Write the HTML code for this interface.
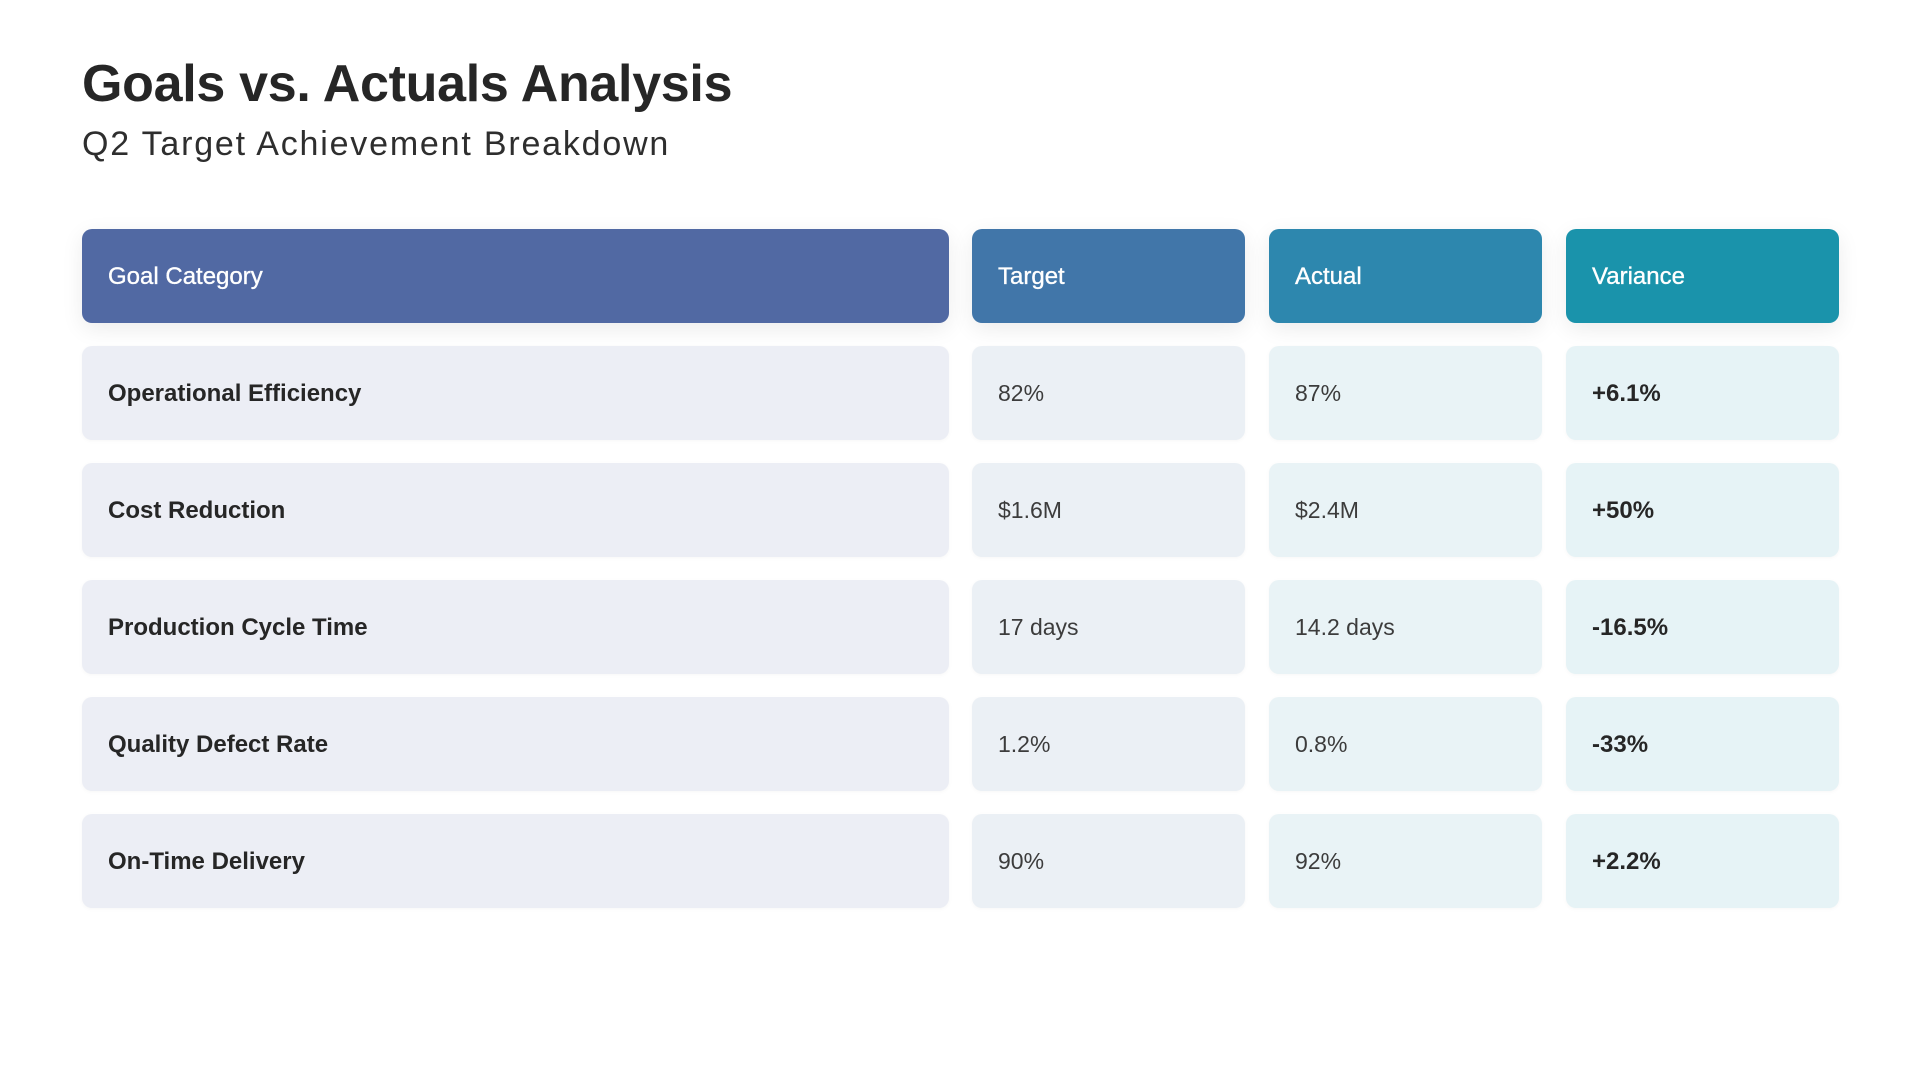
<!DOCTYPE html>
<html>
<head>
<meta charset="utf-8">
<style>
  html, body { margin:0; padding:0; }
  body { width:1920px; height:1080px; background:#ffffff; position:relative; overflow:hidden;
         font-family:"Liberation Sans", Arial, sans-serif; }
  .title { position:absolute; left:82px; top:52px; font-size:52px; font-weight:bold; letter-spacing:-0.3px;
           color:#262626; line-height:64px; white-space:nowrap; }
  .subtitle { position:absolute; left:82px; top:121px; font-size:34px; letter-spacing:1.8px; color:#2e2e2e;
              line-height:46px; white-space:nowrap; }
  .cell { position:absolute; height:94px; border-radius:10px; box-sizing:border-box;
          display:flex; align-items:center; padding-left:26px; white-space:nowrap; }
  .hdr { color:#ffffff; font-size:24px; -webkit-text-stroke:0.35px #ffffff; padding-top:2px;
         box-shadow:0 6px 22px rgba(0,0,0,0.08); }
  .row { box-shadow:0 1px 4px rgba(0,0,0,0.035); }
  .c1 { left:82px; width:867px; }
  .c2 { left:972px; width:273px; }
  .c3 { left:1269px; width:273px; }
  .c4 { left:1566px; width:273px; }
  .h1 { background:#5169a3; }
  .h2 { background:#4176a9; }
  .h3 { background:#2d87ae; }
  .h4 { background:#1a93ab; }
  .r1 { background:#eceef5; }
  .r2 { background:#ebf0f5; }
  .r3 { background:#e9f3f6; }
  .r4 { background:#e6f3f6; }
  .lbl { font-size:24px; font-weight:bold; color:#262626; padding-top:2px; }
  .val { font-size:23px; color:#3c3c3c; }
  .var { font-size:24px; font-weight:bold; color:#262626; padding-top:2px; }
</style>
</head>
<body>
  <div class="title">Goals vs. Actuals Analysis</div>
  <div class="subtitle">Q2 Target Achievement Breakdown</div>

  <div class="cell hdr h1 c1" style="top:229px;">Goal Category</div>
  <div class="cell hdr h2 c2" style="top:229px;">Target</div>
  <div class="cell hdr h3 c3" style="top:229px;">Actual</div>
  <div class="cell hdr h4 c4" style="top:229px;">Variance</div>

  <div class="cell row r1 c1 lbl" style="top:346px;">Operational Efficiency</div>
  <div class="cell row r2 c2 val" style="top:346px;">82%</div>
  <div class="cell row r3 c3 val" style="top:346px;">87%</div>
  <div class="cell row r4 c4 var" style="top:346px;">+6.1%</div>

  <div class="cell row r1 c1 lbl" style="top:463px;">Cost Reduction</div>
  <div class="cell row r2 c2 val" style="top:463px;">$1.6M</div>
  <div class="cell row r3 c3 val" style="top:463px;">$2.4M</div>
  <div class="cell row r4 c4 var" style="top:463px;">+50%</div>

  <div class="cell row r1 c1 lbl" style="top:580px;">Production Cycle Time</div>
  <div class="cell row r2 c2 val" style="top:580px;">17 days</div>
  <div class="cell row r3 c3 val" style="top:580px;">14.2 days</div>
  <div class="cell row r4 c4 var" style="top:580px;">-16.5%</div>

  <div class="cell row r1 c1 lbl" style="top:697px;">Quality Defect Rate</div>
  <div class="cell row r2 c2 val" style="top:697px;">1.2%</div>
  <div class="cell row r3 c3 val" style="top:697px;">0.8%</div>
  <div class="cell row r4 c4 var" style="top:697px;">-33%</div>

  <div class="cell row r1 c1 lbl" style="top:814px;">On-Time Delivery</div>
  <div class="cell row r2 c2 val" style="top:814px;">90%</div>
  <div class="cell row r3 c3 val" style="top:814px;">92%</div>
  <div class="cell row r4 c4 var" style="top:814px;">+2.2%</div>
</body>
</html>
